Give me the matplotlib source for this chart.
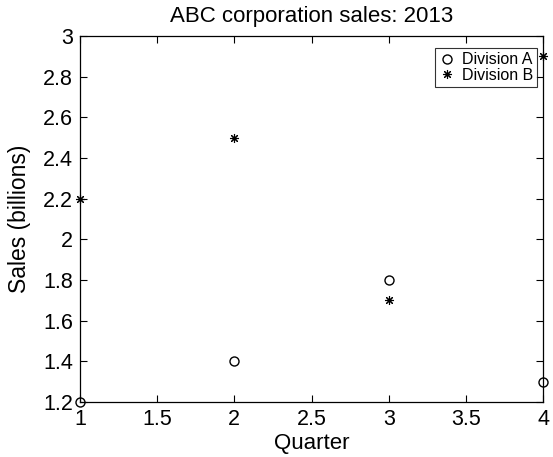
import matplotlib
matplotlib.use('Agg')
import matplotlib.pyplot as plt

# --- data ---
quarters = [1, 2, 3, 4]
div_a = [1.2, 1.4, 1.8, 1.3]
div_b = [2.2, 2.5, 1.7, 2.9]

plt.rcParams['font.family'] = ['Liberation Sans', 'DejaVu Sans']

fig = plt.figure(figsize=(5.53, 4.57), dpi=100)
ax = fig.add_axes([0.1447, 0.1204, 0.8373, 0.8006])

ax.plot(quarters, div_a, linestyle='none', marker='o', markersize=6.5,
        markerfacecolor='none', markeredgecolor='black', markeredgewidth=1.0,
        label='Division A', clip_on=False)
ax.plot(quarters, div_b, linestyle='none', marker=(8, 2, 0), markersize=6.5,
        color='black', markeredgewidth=0.8, label='Division B', clip_on=False)

ax.set_xlim(1, 4)
ax.set_ylim(1.2, 3)
ax.set_xticks([1, 1.5, 2, 2.5, 3, 3.5, 4])
ax.set_xticklabels(['1', '1.5', '2', '2.5', '3', '3.5', '4'])
ax.set_yticks([1.2, 1.4, 1.6, 1.8, 2, 2.2, 2.4, 2.6, 2.8, 3])
ax.set_yticklabels(['1.2', '1.4', '1.6', '1.8', '2', '2.2', '2.4', '2.6', '2.8', '3'])
ax.tick_params(direction='in', top=True, right=True, length=5, width=0.8,
               labelsize=15.5, pad=5)
for s in ax.spines.values():
    s.set_linewidth(0.9)

ax.set_xlabel('Quarter', fontsize=16, labelpad=2)
ax.set_ylabel('Sales (billions)', fontsize=16.5, labelpad=9)
ax.set_title('ABC corporation sales: 2013', fontsize=16, pad=10)

leg = ax.legend(loc='upper right', bbox_to_anchor=(0.987, 0.967),
                fontsize=11.5, frameon=True, fancybox=False,
                edgecolor='black', borderpad=0.25, handlelength=1.0,
                handletextpad=0.45, labelspacing=0.05, borderaxespad=0)
leg.get_frame().set_linewidth(0.8)

fig.savefig('out.png', dpi=100)
